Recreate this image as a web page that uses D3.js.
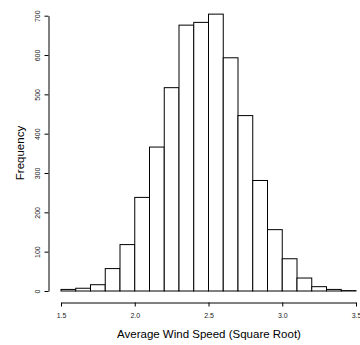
<!DOCTYPE html>
<html><head><meta charset="utf-8">
<script src="https://cdn.jsdelivr.net/npm/d3@7"></script>
<style>html,body{margin:0;padding:0;background:#fff;}svg{display:block;}</style>
</head><body>
<svg id="c" width="360" height="345"></svg>
<script>
const binStarts = [1.5,1.6,1.7,1.8,1.9,2.0,2.1,2.2,2.3,2.4,2.5,2.6,2.7,2.8,2.9,3.0,3.1,3.2,3.3,3.4];
const binWidth = 0.1;
const counts = [4,7,16,57,118,238,366,517,676,683,704,593,446,281,156,82,33,11,4,1];
const xTicks = [1.5,2.0,2.5,3.0,3.5];
const yTicks = [0,100,200,300,400,500,600,700];
const xTitle = "Average Wind Speed (Square Root)";
const yTitle = "Frequency";

const svg = d3.select("#c");
const font = "'Liberation Sans', Arial, sans-serif";
const x = d3.scaleLinear().domain([1.5,3.5]).range([61,356]);
const y = d3.scaleLinear().domain([0,700]).range([291,15.7]);

svg.append("g").selectAll("rect").data(binStarts).join("rect")
  .attr("x", (d)=>x(d)).attr("width", (d)=>x(d+binWidth)-x(d))
  .attr("y", (d,i)=>y(counts[i])).attr("height", (d,i)=>y(0)-y(counts[i]))
  .attr("fill","#fff").attr("stroke","#000").attr("stroke-width",1);

const xa = svg.append("g").attr("transform","translate(0,302.5)")
  .call(d3.axisBottom(x).tickValues(xTicks).tickFormat(d3.format(".1f")).tickSizeOuter(0).tickSizeInner(4).tickPadding(7));
xa.select(".domain").attr("stroke","#000");
xa.selectAll("line").attr("stroke","#000");
xa.selectAll("text").attr("font-family",font).attr("font-size","7px").attr("fill","#222");

const ya = svg.append("g").attr("transform","translate(48.5,0)")
  .call(d3.axisLeft(y).tickValues(yTicks).tickSizeOuter(0).tickSizeInner(4));
ya.select(".domain").attr("stroke","#000");
ya.selectAll("line").attr("stroke","#000");
ya.selectAll("text").attr("font-family",font).attr("font-size","7px").attr("fill","#222")
  .attr("text-anchor","middle").attr("dy",null).attr("x",null)
  .attr("transform",(d)=>"translate(-11,0) rotate(-90)").attr("dy","0.32em");

svg.append("text").attr("x",(x(1.5)+x(3.5))/2 + 0.5).attr("y",338).attr("text-anchor","middle")
  .attr("font-family",font).attr("font-size","11.5px").attr("fill","#000").text(xTitle);
svg.append("text").attr("transform","translate(24,153) rotate(-90)").attr("text-anchor","middle")
  .attr("font-family",font).attr("font-size","11.5px").attr("fill","#000").text(yTitle);
</script>
</body></html>
